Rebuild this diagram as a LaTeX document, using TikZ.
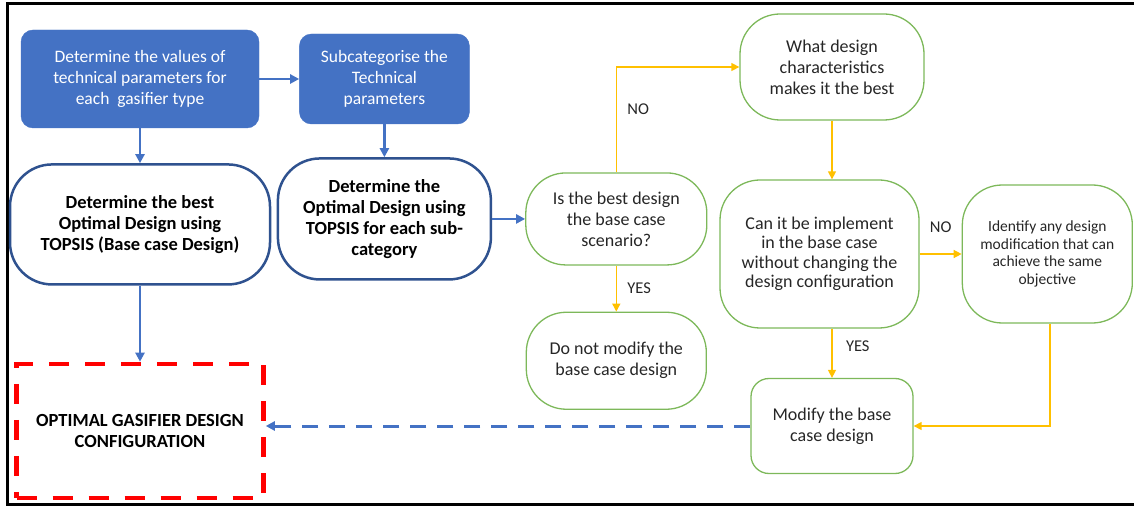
\documentclass[tikz,border=0pt]{standalone}
\usepackage{fontspec}
\setmainfont{Carlito}
\usetikzlibrary{arrows.meta,positioning}

\definecolor{offblue}{HTML}{4472C4}
\definecolor{darkblue}{HTML}{2F528F}
\definecolor{leafgreen}{HTML}{7DB85A}
\definecolor{amber}{HTML}{FFC000}

\begin{document}
\begin{tikzpicture}[x=1pt, y=1pt,
  node distance=35pt and 40pt,
  blueblock/.style={draw=offblue, fill=offblue, rounded corners=12pt, align=center,
                    text=white, font=\fontsize{17.5}{21}\selectfont, inner sep=4pt},
  topsis/.style={draw=darkblue, line width=2.5pt, rounded corners=42pt, align=center,
                 font=\fontsize{18.5}{21}\selectfont\bfseries, inner sep=4pt},
  choice/.style={draw=leafgreen, line width=1.3pt, rounded corners=40pt, align=center,
                 text=black!85, font=\fontsize{18}{21}\selectfont, inner sep=4pt},
  goalbox/.style={draw=red, line width=4.5pt, dash pattern=on 20pt off 16pt, align=center,
                  font=\fontsize{18.5}{21}\selectfont\bfseries},
  arr/.style={-{Triangle[length=9pt,width=9pt]}, draw=offblue, line width=2.4pt},
  yarr/.style={-{Triangle[length=8pt,width=8pt]}, draw=amber, line width=1.4pt},
  backarr/.style={-{Triangle[length=9pt,width=9pt]}, draw=offblue, line width=3pt,
                  dash pattern=on 16pt off 11pt},
  lbl/.style={text=black!85, font=\fontsize{16.5}{18}\selectfont}]
  \useasboundingbox (0,0) rectangle (1134,506);
  % frame, open on the right
  \draw[line width=3pt] (1140,502) -- (7,502) -- (7,1.5) -- (1140,1.5);

  % left column: parameters and TOPSIS
  \node[blueblock, minimum width=238pt, minimum height=98pt] (vals) at (140,427)
    {Determine the values of\\ technical parameters for\\ each\ \ gasifier type};
  \node[blueblock, right=40pt of vals, minimum width=170pt, minimum height=90pt] (subcat)
    {Subcategorise the\\ Technical\\ parameters};
  \node[topsis, below=35pt of vals, minimum width=260pt, minimum height=120pt] (best)
    {Determine the best\\ Optimal Design using\\ TOPSIS (Base case Design)};
  \node[topsis, below=33pt of subcat, minimum width=213pt, minimum height=121pt] (optimal)
    {Determine the\\ Optimal Design using\\ TOPSIS for each sub-\\ category};
  \node[goalbox, below=76pt of best, minimum width=247pt, minimum height=134pt] (goal)
    {OPTIMAL GASIFIER DESIGN\\ CONFIGURATION};

  % decisions
  \node[choice, right=33pt of optimal, minimum width=181pt, minimum height=92pt] (decision)
    {Is the best design\\ the base case\\ scenario?};
  \node[choice, below=46pt of decision, minimum width=180pt, minimum height=97pt] (donot)
    {Do not modify the\\ base case design};
  \node[choice, minimum width=184pt, minimum height=106pt] (what) at (832,439)
    {What design\\ characteristics\\ makes it the best};
  \node[choice, minimum width=199pt, minimum height=148pt,
        font=\fontsize{18}{19.5}\selectfont] (can) at (819.5,252)
    {Can it be implement\\ in the base case\\ without changing the\\ design configuration};
  \node[choice, right=42pt of can, minimum width=170pt, minimum height=138pt,
        font=\fontsize{15.5}{17.5}\selectfont] (identify)
    {Identify any design\\ modification that can\\ achieve the same\\ objective};
  \node[choice, rounded corners=18pt, minimum width=162pt, minimum height=95pt] (modify)
    at (832,80) {Modify the base\\ case design};

  \draw[arr] (vals) -- (subcat);
  \draw[arr] (vals) -- (best);
  \draw[arr] (subcat) -- (optimal);
  \draw[arr] (optimal) -- (decision);
  \draw[arr] (best.south) -- (best.south |- goal.north);
  \draw[yarr] (decision.north) |- (what.west) node[lbl, pos=0.3, right=7pt] {NO};
  \draw[yarr] (decision) -- (donot) node[lbl, midway, right=7pt] {YES};
  \draw[yarr] (what) -- (what |- can.north);
  \draw[yarr] (can) -- (identify) node[lbl, midway, above=17pt] {NO};
  \draw[yarr] (what |- can.south) -- (modify) node[lbl, pos=0.35, right=10pt] {YES};
  \draw[yarr] ([xshift=2.5pt]identify.south) |- (modify.east);
  \draw[backarr] (modify.west) -- (goal.east |- modify.west);
\end{tikzpicture}
\end{document}
